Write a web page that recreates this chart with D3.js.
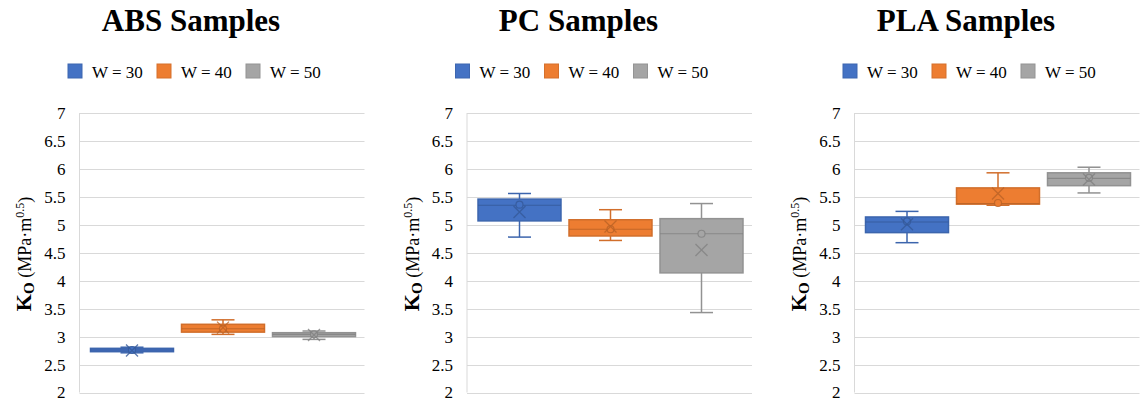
<!DOCTYPE html>
<html>
<head>
<meta charset="utf-8">
<script src="https://cdn.jsdelivr.net/npm/d3@7"></script>
<style>
  html, body { margin: 0; padding: 0; background: #ffffff; }
  svg { display: block; }
  svg text { font-family: 'Liberation Serif', 'Times New Roman', serif; fill: #000; }
</style>
</head>
<body>
<svg id="chart" width="1141" height="400"></svg>
<script>
// Fracture toughness box plots, one panel per material
const panelTitles = ["ABS Samples", "PC Samples", "PLA Samples"];
const seriesNames = ["W = 30", "W = 40", "W = 50"];
const seriesColors = ["#4472C4", "#ED7D31", "#A5A5A5"];
const yTicks = [2, 2.5, 3, 3.5, 4, 4.5, 5, 5.5, 6, 6.5, 7];

// Each row: [min, q1, median, q3, max, mean, inner point]
const absStats = [
  [2.71, 2.73, 2.76, 2.79, 2.81, 2.75, 2.76],
  [3.04, 3.08, 3.14, 3.22, 3.30, 3.16, 3.14],
  [2.95, 3.00, 3.04, 3.07, 3.10, 3.03, 3.04]
];
const pcStats = [
  [4.78, 5.07, 5.35, 5.46, 5.56, 5.23, 5.36],
  [4.72, 4.80, 4.92, 5.09, 5.27, 4.97, 4.92],
  [3.43, 4.14, 4.84, 5.11, 5.38, 4.55, 4.84]
];
const plaStats = [
  [4.68, 4.86, 5.05, 5.14, 5.24, 5.01, 5.06],
  [5.35, 5.37, 5.38, 5.66, 5.93, 5.56, 5.39],
  [5.57, 5.70, 5.83, 5.93, 6.03, 5.81, 5.84]
];
const panelStats = [absStats, pcStats, plaStats];

const FONT = "'Liberation Serif', 'Times New Roman', serif";
const svg = d3.select("#chart");
const y = d3.scaleLinear().domain([2, 7]).range([392.5, 113]);
const panelOffsets = [0, 387.5, 775];
const plotLeft = 79.5, plotWidth = 285;

const toRow = r => ({ min: r[0], q1: r[1], median: r[2], q3: r[3], max: r[4], mean: r[5], point: r[6] });

panelTitles.forEach((title, p) => {
  const off = panelOffsets[p];
  const L = plotLeft + off;
  const g = svg.append("g").attr("font-family", FONT);

  // title
  g.append("text")
    .attr("x", off + 191).attr("y", 31)
    .attr("text-anchor", "middle")
    .style("font-family", FONT)
    .style("font-size", "31px").style("font-weight", "bold")
    .text(title);

  // legend
  const legend = g.append("g");
  seriesNames.forEach((name, i) => {
    const lx = off + 68 + i * 89;
    legend.append("rect")
      .attr("x", lx).attr("y", 64).attr("width", 14).attr("height", 14)
      .attr("fill", seriesColors[i])
      .attr("stroke", d3.color(seriesColors[i]).darker(0.3)).attr("stroke-width", 1);
    legend.append("text")
      .attr("x", lx + 24).attr("y", 77.5)
      .style("font-family", FONT)
      .style("font-size", "17px")
      .text(name);
  });

  // gridlines
  g.append("g").selectAll("line").data(yTicks).join("line")
    .attr("x1", L).attr("x2", L + plotWidth)
    .attr("y1", d => Math.round(y(d)) + 0.5).attr("y2", d => Math.round(y(d)) + 0.5)
    .attr("stroke", "#d9d9d9").attr("stroke-width", 1);
  g.append("line")
    .attr("x1", L).attr("x2", L)
    .attr("y1", y(7)).attr("y2", y(2))
    .attr("stroke", "#d9d9d9").attr("stroke-width", 1);

  // y axis labels
  const axis = d3.axisLeft(y).tickValues(yTicks).tickSize(0).tickPadding(0)
    .tickFormat(d => String(d));
  const ax = g.append("g").attr("transform", `translate(${L - 14},0)`).call(axis);
  ax.attr("font-family", FONT);
  ax.select(".domain").remove();
  ax.selectAll("text")
    .style("font-family", FONT)
    .style("font-size", "17px").attr("fill", "#000");

  // y axis title
  const yt = g.append("text")
    .attr("transform", `translate(${off + 31},254) rotate(-90)`)
    .attr("text-anchor", "middle")
    .style("font-family", FONT);
  yt.append("tspan").style("font-size", "22px").style("font-weight", "bold").text("K");
  yt.append("tspan").style("font-size", "15px").style("font-weight", "bold").attr("dy", 3).text("O");
  yt.append("tspan").style("font-size", "18px").attr("dy", -3).text(" (MPa·m");
  yt.append("tspan").style("font-size", "12px").attr("dy", -7).text("0.5");
  yt.append("tspan").style("font-size", "18px").attr("dy", 7).text(")");

  // boxes
  const x = d3.scaleBand().domain(seriesNames)
    .range([L + 7, L + 280]).paddingInner(0.088).paddingOuter(0.044);
  const bw = x.bandwidth();
  const capW = 23;

  panelStats[p].forEach((r, i) => {
    const s = toRow(r);
    const c = seriesColors[i];
    const dark = d3.color(c).darker(0.35).formatHex();
    const dark2 = d3.color(c).darker(0.7).formatHex();
    const x0 = x(seriesNames[i]);
    const cx = x0 + bw / 2;
    const bg = g.append("g");

    // whiskers
    bg.append("line").attr("x1", cx).attr("x2", cx)
      .attr("y1", y(s.max)).attr("y2", y(s.q3))
      .attr("stroke", dark).attr("stroke-width", 1.5);
    bg.append("line").attr("x1", cx).attr("x2", cx)
      .attr("y1", y(s.q1)).attr("y2", y(s.min))
      .attr("stroke", dark).attr("stroke-width", 1.5);
    [s.max, s.min].forEach(v => {
      bg.append("line").attr("x1", cx - capW / 2).attr("x2", cx + capW / 2)
        .attr("y1", y(v)).attr("y2", y(v))
        .attr("stroke", dark).attr("stroke-width", 1.5);
    });

    // box
    bg.append("rect")
      .attr("x", x0).attr("width", bw)
      .attr("y", y(s.q3)).attr("height", y(s.q1) - y(s.q3))
      .attr("fill", c).attr("stroke", dark).attr("stroke-width", 1.5);
    // median
    bg.append("line").attr("x1", x0).attr("x2", x0 + bw)
      .attr("y1", y(s.median)).attr("y2", y(s.median))
      .attr("stroke", dark2).attr("stroke-width", 1.2).attr("stroke-opacity", 0.8);

    // inner point
    bg.append("circle").attr("cx", cx).attr("cy", y(s.point)).attr("r", 3.5)
      .attr("fill", c).attr("stroke", dark2).attr("stroke-width", 1.2).attr("stroke-opacity", 0.8);

    // mean marker
    const m = 6;
    const my = y(s.mean);
    bg.append("path")
      .attr("d", `M${cx - m},${my - m}L${cx + m},${my + m}M${cx - m},${my + m}L${cx + m},${my - m}`)
      .attr("stroke", dark2).attr("stroke-width", 1.3).attr("stroke-opacity", 0.8).attr("fill", "none");
  });
});
</script>
</body>
</html>
